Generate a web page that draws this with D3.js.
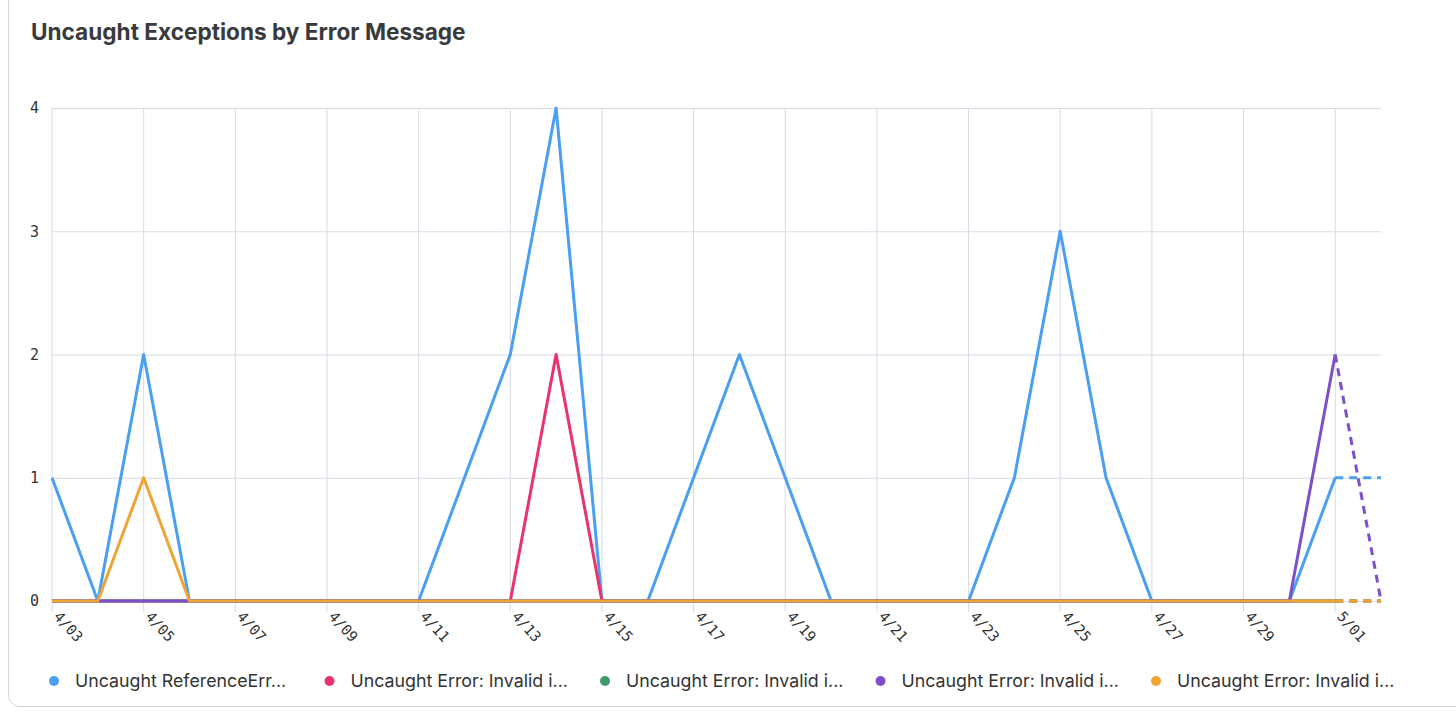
<!DOCTYPE html>
<html>
<head>
<meta charset="utf-8">
<script src="https://cdn.jsdelivr.net/npm/d3@7"></script>
<style>
    body { margin: 0; background: #fff; }
    .card { position: absolute; left: 8px; top: -10px; width: 1470px; height: 717px;
        border: 1px solid #d4d4d8; border-radius: 12px; box-sizing: border-box; }
    svg { position: absolute; left: 0; top: 0; }
</style>
</head>
<body>
<div class="card"></div>
<div id="chart"></div>
<script>
// dates 4/03 .. 5/02
const dates = ["4/03", "4/04", "4/05", "4/06", "4/07", "4/08", "4/09", "4/10", "4/11", "4/12",
    "4/13", "4/14", "4/15", "4/16", "4/17", "4/18", "4/19", "4/20", "4/21", "4/22",
    "4/23", "4/24", "4/25", "4/26", "4/27", "4/28", "4/29", "4/30", "5/01", "5/02"];

const refError = [1, 0, 2, 0, 0, 0, 0, 0, 0, 1, 2, 4, 0, 0, 1, 2, 1, 0, 0, 0, 0, 1, 3, 1, 0, 0, 0, 0, 1, 1];
const invalidA = [0, 0, 0, 0, 0, 0, 0, 0, 0, 0, 0, 2, 0, 0, 0, 0, 0, 0, 0, 0, 0, 0, 0, 0, 0, 0, 0, 0, 0, 0];
const invalidB = [0, 0, 0, 0, 0, 0, 0, 0, 0, 0, 0, 0, 0, 0, 0, 0, 0, 0, 0, 0, 0, 0, 0, 0, 0, 0, 0, 0, 0, 0];
const invalidC = [0, 0, 0, 0, 0, 0, 0, 0, 0, 0, 0, 0, 0, 0, 0, 0, 0, 0, 0, 0, 0, 0, 0, 0, 0, 0, 0, 0, 2, 0];
const invalidD = [0, 0, 1, 0, 0, 0, 0, 0, 0, 0, 0, 0, 0, 0, 0, 0, 0, 0, 0, 0, 0, 0, 0, 0, 0, 0, 0, 0, 0, 0];

const seriesNames = ["Uncaught ReferenceErr...", "Uncaught Error: Invalid i...", "Uncaught Error: Invalid i...",
    "Uncaught Error: Invalid i...", "Uncaught Error: Invalid i..."];
const seriesColors = ["#4a9ff2", "#e8336d", "#3f9a6c", "#7d4fc9", "#eea535"];
const yTicks = [0, 1, 2, 3, 4];

const series = [refError, invalidA, invalidB, invalidC, invalidD];

const W = 1456, H = 712;
const margin = {top: 108, left: 52, right: 75, bottom: 111};
const width = W - margin.left - margin.right;
const height = H - margin.top - margin.bottom;

const svg = d3.select("#chart").append("svg")
    .attr("width", W)
    .attr("height", H);

svg.append("text")
    .attr("x", 31)
    .attr("y", 40)
    .style("font-family", "Inter, 'Open Sans', sans-serif")
    .style("font-weight", "700")
    .style("font-size", "22.6px")
    .style("fill", "#3a3a3c")
    .text("Uncaught Exceptions by Error Message");

const g = svg.append("g")
    .attr("transform", "translate(" + margin.left + "," + margin.top + ")");

const xSc = d3.scalePoint().domain(dates).range([0, width]);
const ySc = d3.scaleLinear().domain([0, 4]).range([height, 0]);

// horizontal grid
g.append("g")
    .call(d3.axisLeft(ySc).tickValues(yTicks).tickSize(-width).tickFormat(""))
    .call(s => s.select(".domain").remove())
    .call(s => s.selectAll("line").attr("stroke", "#d8dae6"));

// y labels
g.selectAll(".ylab").data(yTicks).enter().append("text")
    .attr("class", "ylab")
    .attr("x", -13)
    .attr("y", d => ySc(d))
    .attr("dy", "0.35em")
    .style("text-anchor", "end")
    .style("font-family", "'DejaVu Sans Mono', monospace")
    .style("font-size", "15px")
    .style("fill", "#333")
    .text(d => d);

// vertical grid + x labels every 2 days
const xTicks = dates.filter((d, i) => i % 2 === 0 && i < dates.length - 1);
g.selectAll(".vgrid").data(xTicks).enter().append("line")
    .attr("x1", d => xSc(d)).attr("x2", d => xSc(d))
    .attr("y1", 0).attr("y2", height + 11)
    .attr("stroke", "#d8dae6");

g.selectAll(".xlab").data(xTicks).enter().append("text")
    .attr("transform", d => "translate(" + (xSc(d) + 1) + "," + (height + 16) + ") rotate(48)")
    .style("font-family", "'DejaVu Sans Mono', monospace")
    .style("font-size", "14.5px")
    .style("fill", "#333")
    .text(d => d);

// lines: solid up to 5/01, dashed to 5/02
const line = d3.line()
    .x(d => xSc(d.date))
    .y(d => ySc(d.value));

const n = dates.length;
series.forEach((vals, k) => {
    const pts = vals.map((v, i) => ({date: dates[i], value: v}));
    g.append("path")
        .datum(pts.slice(0, n - 1))
        .attr("d", line)
        .attr("fill", "none")
        .attr("stroke", seriesColors[k])
        .attr("stroke-width", 3)
        .attr("stroke-linejoin", "round");
    g.append("path")
        .datum(pts.slice(n - 2))
        .attr("d", line)
        .attr("fill", "none")
        .attr("stroke", seriesColors[k])
        .attr("stroke-width", 3)
        .attr("stroke-dasharray", "8,6");
});

// legend
const legend = svg.append("g").attr("transform", "translate(54,681)");
seriesNames.forEach((name, k) => {
    const item = legend.append("g").attr("transform", "translate(" + (k * 275.5) + ",0)");
    item.append("circle").attr("r", 5).attr("fill", seriesColors[k]);
    item.append("text")
        .attr("x", 21)
        .attr("dy", "0.35em")
        .style("font-family", "Inter, 'Open Sans', sans-serif")
        .style("font-size", "17.8px")
        .style("fill", "#333")
        .text(name);
});
</script>
</body>
</html>
